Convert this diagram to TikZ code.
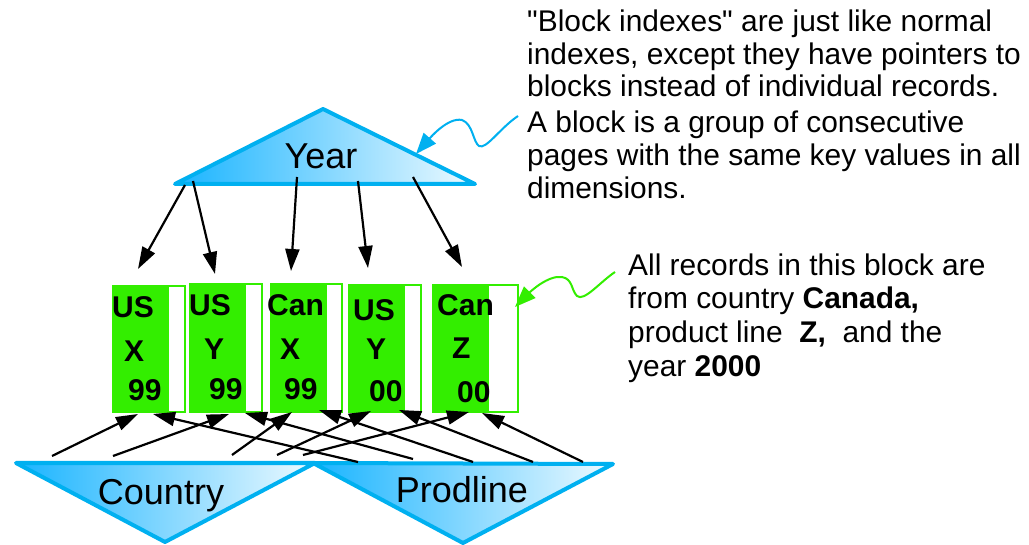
\documentclass[tikz,border=0pt]{standalone}
\usepackage{fontspec}
\setmainfont{Liberation Sans}[Ligatures=TeXOff]
\usetikzlibrary{arrows.meta}
\definecolor{idxblue}{RGB}{0,176,240}
\definecolor{idxdeep}{RGB}{25,180,255}
\definecolor{idxpale}{RGB}{238,250,255}
\definecolor{blkgreen}{RGB}{51,238,0}

\begin{document}
\begin{tikzpicture}[x=1pt,y=-1pt,
  tri/.style={draw=idxblue, line width=4pt, line join=round, left color=idxdeep, right color=idxpale},
  trilabel/.style={inner sep=0pt, anchor=base, font=\fontsize{36}{40}\selectfont},
  ptr/.style={line width=2.2pt, -{Triangle[length=22pt,width=14pt]}},
  blk/.style={draw=blkgreen, line width=2pt, inner sep=0pt},
  key/.style={inner sep=0pt, anchor=base west, font=\bfseries\fontsize{30}{32}\selectfont},
  note/.style={inner sep=0pt, anchor=base west, font=\fontsize{29.9}{32}\selectfont},
  callout/.style={line width=2pt, -{Triangle[length=21pt,width=16pt]}}]

% canvas
\fill[white] (0,0) rectangle (1029,545);
\useasboundingbox (0,0) rectangle (1029,545);

% --- index triangles ---
\coordinate (yL) at (175,184);
\coordinate (yT) at (323,109);
\coordinate (yR) at (475,184);
\path[tri] (yL) -- (yT) -- (yR) -- cycle;
\node[trilabel] (year) at (321,169) {Year};

\coordinate (cL) at (16,463);
\coordinate (cR) at (315,463);
\coordinate (cB) at (165,542);
\path[tri] (cL) -- (cR) -- (cB) -- cycle;
\node[trilabel] (country) at (161,504) {Country};

\coordinate (pL) at (313,463);
\coordinate (pR) at (613,464);
\coordinate (pB) at (463,543);
\path[tri] (pL) -- (pR) -- (pB) -- cycle;
\node[trilabel] (prodline) at (462,502) {Prodline};

% --- blocks ---
\node[blk, minimum width=72pt, minimum height=126pt] (b1) at (149,349) {};
\node[blk, minimum width=72pt, minimum height=128pt] (b2) at (226,348) {};
\node[blk, minimum width=71pt, minimum height=128pt] (b3) at (306.5,348) {};
\node[blk, minimum width=72pt, minimum height=127pt] (b4) at (385,348.5) {};
\node[blk, minimum width=85pt, minimum height=127pt] (b5) at (475.5,348.5) {};
\foreach \b in {b1,b2,b3,b4,b5}
  \fill[blkgreen] (\b.north west) rectangle ([xshift=57pt]\b.south west);

\node[key] (t1a) at (112,318)   {US};
\node[key] (t1b) at (124,361.5) {X};
\node[key] (t1c) at (128,401)   {99};
\node[key] (t2a) at (189,316)   {US};
\node[key] (t2b) at (204,360)   {Y};
\node[key] (t2c) at (209,399.5) {99};
\node[key] (t3a) at (267,316)   {Can};
\node[key] (t3b) at (280,360)   {X};
\node[key] (t3c) at (284,399.5) {99};
\node[key] (t4a) at (353,320.5) {US};
\node[key] (t4b) at (366,360)   {Y};
\node[key] (t4c) at (369,401.5) {00};
\node[key] (t5a) at (437,316)   {Can};
\node[key] (t5b) at (452,359)   {Z};
\node[key] (t5c) at (457,402.5) {00};

% --- pointer ends ---
\coordinate (ys1) at (185,185); \coordinate (ye1) at (138,269);
\coordinate (ys2) at (193,181); \coordinate (ye2) at (215,274);
\coordinate (ys3) at (297,177); \coordinate (ye3) at (291,271);
\coordinate (ys4) at (358,181); \coordinate (ye4) at (368,268);
\coordinate (ys5) at (413,177); \coordinate (ye5) at (462,267);

\coordinate (cs1) at (52,456);  \coordinate (ce1) at (138,414);
\coordinate (cs2) at (113,456); \coordinate (ce2) at (229,414);
\coordinate (cs3) at (232,455); \coordinate (ce3) at (292,412);
\coordinate (cs4) at (277,455); \coordinate (ce4) at (371,411);
\coordinate (cs5) at (303,455); \coordinate (ce5) at (469,412);

\coordinate (ps1) at (358,462); \coordinate (pe1) at (153,414);
\coordinate (ps2) at (413,459); \coordinate (pe2) at (245,413);
\coordinate (ps3) at (473,462); \coordinate (pe3) at (319,410);
\coordinate (ps4) at (533,462); \coordinate (pe4) at (399,410);
\coordinate (ps5) at (583,462); \coordinate (pe5) at (482,413);

\foreach \i in {1,...,5} {
  \draw[ptr] (ys\i) -- (ye\i);
  \draw[ptr] (cs\i) -- (ce\i);
  \draw[ptr] (ps\i) -- (pe\i);
}

% --- notes ---
\node[note] (n1a) at (527,31.7)  {"Block indexes" are just like normal};
\node[note] (n1b) at (527,65)    {indexes, except they have pointers to};
\node[note] (n1c) at (527,96.7)  {blocks instead of individual records.};
\node[note] (n1d) at (527,133)   {A block is a group of consecutive};
\node[note] (n1e) at (527,165.7) {pages with the same key values in all};
\node[note] (n1f) at (527,198.3) {dimensions.};

\node[note] (n2a) at (628,276)   {All records in this block are};
\node[note] (n2b) at (628,308.3) {from country \textbf{Canada,}};
\node[note] (n2c) at (628,342.7) {product line\ \ \textbf{Z,}\ \ and the};
\node[note] (n2d) at (628,376.7) {year \textbf{2000}};

% --- callouts ---
\coordinate (ycs) at (518,116);
\coordinate (yce) at (416,154);
\draw[callout, idxblue] (ycs) .. controls (500,128) and (486,150) .. (479,146)
  .. controls (473,142) and (473,124) .. (462,120)
  .. controls (448,117) and (430,138) .. (yce);

\coordinate (gcs) at (615,272);
\coordinate (gce) at (515,307);
\draw[callout, blkgreen] (gcs) .. controls (600,282) and (584,302) .. (577,296)
  .. controls (571,290) and (573,279) .. (562,277)
  .. controls (548,275) and (530,292) .. (gce);
\end{tikzpicture}
\end{document}
